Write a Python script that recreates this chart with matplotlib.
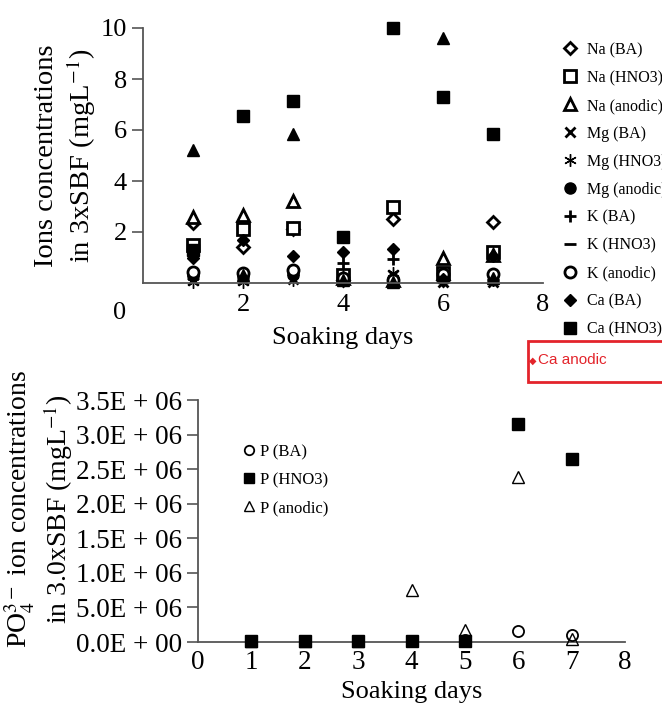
import matplotlib
matplotlib.use('Agg')
import matplotlib.pyplot as plt
from matplotlib.patches import Rectangle

plt.rcParams['font.family'] = ['Liberation Serif', 'DejaVu Serif']
plt.rcParams['mathtext.fontset'] = 'stix'

# верхній графік: концентрації іонів
days = [1, 2, 3, 4, 5, 6, 7]
na_ba = [2.35, 1.4, 2.1, 0.1, 2.5, 0.1, 2.4]
na_hno3 = [1.5, 2.1, 2.15, 0.3, 3.0, 0.4, 1.2]
na_anodic = [2.6, 2.65, 3.2, 0.2, 0.1, 1.0, 1.1]
mg_ba = [0.1, 0.1, 0.15, 0.1, 0.3, 0.05, 0.05]
mg_hno3 = [0.05, 0.05, 0.1, 0.1, 0.4, 0.1, 0.1]
mg_anodic = [0.3, 0.25, 0.3, 0.15, 0.15, 0.25, 0.3]
k_ba = [0.3, 0.35, 0.45, 0.8, 0.95, 0.2, 0.1]
k_hno3 = [0.2, 0.3, 0.35, 0.2, 0.2, 0.1, 0.1]
k_anodic = [0.45, 0.4, 0.5, 0.2, 0.1, 0.35, 0.35]
ca_ba = [1.0, 1.7, 1.05, 1.2, 1.35, 0.15, 1.05]
ca_hno3 = [1.3, 6.55, 7.15, 1.8, 10.0, 7.3, 5.85]
ca_anodic = [5.2, 0.3, 5.85, 0.1, 0.05, 9.6, 0.2]

# нижній графік: PO4
p_days = [1, 2, 3, 4, 5, 6, 7]
p_ba = [0.02e6, 0.02e6, 0.02e6, 0.02e6, 0.03e6, 0.16e6, 0.10e6]
p_hno3 = [0.02e6, 0.02e6, 0.02e6, 0.02e6, 0.02e6, 3.16e6, 2.64e6]
p_anodic = [0.02e6, 0.02e6, 0.02e6, 0.75e6, 0.17e6, 2.38e6, 0.05e6]
p_yticks = [0, 0.5e6, 1.0e6, 1.5e6, 2.0e6, 2.5e6, 3.0e6, 3.5e6]
p_ylabels = ['0.0E + 00', '5.0E + 06', '1.0E + 06', '1.5E + 06',
             '2.0E + 06', '2.5E + 06', '3.0E + 06', '3.5E + 06']

W, H = 662, 711
fig = plt.figure(figsize=(W / 100, H / 100), dpi=100)
spine_c = '#555555'

def style_axes(ax):
    for s in ['top', 'right']:
        ax.spines[s].set_visible(False)
    for s in ['left', 'bottom']:
        ax.spines[s].set_color(spine_c)
        ax.spines[s].set_linewidth(1.3)
    ax.tick_params(axis='y', direction='out', length=8, width=1.2, color=spine_c)
    ax.tick_params(axis='x', length=0)
    ax.set_xticks([8], minor=True)
    ax.tick_params(axis='x', which='minor', direction='in', length=6, width=1.2, color=spine_c)

# ---- верхній
ax1 = fig.add_axes([143 / W, 1 - 283 / H, 400 / W, 255 / H])
style_axes(ax1)
series = [
    (na_ba, 'D', 'white', 'Na (BA)', 6),
    (na_hno3, 's', 'white', 'Na (HNO3)', 8),
    (na_anodic, '^', 'white', 'Na (anodic)', 9),
    (mg_ba, 'x', 'black', 'Mg (BA)', 7),
    (mg_hno3, (6, 2, 0), 'black', 'Mg (HNO3)', 9),
    (mg_anodic, 'o', 'black', 'Mg (anodic)', 8),
    (k_ba, '+', 'black', 'K (BA)', 8),
    (k_hno3, '_', 'black', 'K (HNO3)', 8),
    (k_anodic, 'o', 'white', 'K (anodic)', 8),
    (ca_ba, 'D', 'black', 'Ca (BA)', 6),
    (ca_hno3, 's', 'black', 'Ca (HNO3)', 8.5),
    (ca_anodic, '^', 'black', 'Ca (anodic)', 9),
]
for vals, m, fc, lab, ms in series:
    thick = fc == 'white' or m in ['x', '_', '+']
    ax1.plot(days, vals, linestyle='none', marker=m, ms=ms, mfc=fc,
             mec='black', mew=2 if thick else 1, color='black',
             label=lab, clip_on=False)
ax1.set_xlim(0, 8)
ax1.set_ylim(0, 10)
ax1.set_yticks([2, 4, 6, 8, 10])
ax1.set_xticks([2, 4, 6, 8])
ax1.tick_params(labelsize=19)
ax1.tick_params(axis='x', pad=8)
ax1.text(-0.058, -0.118, '0', transform=ax1.transAxes, ha='center', va='center', fontsize=19)
ax1.set_xlabel('Soaking days', fontsize=19, labelpad=8)
ax1.set_ylabel('Ions concentrations\nin 3xSBF (mgL$^{-1}$)', fontsize=20.5, labelpad=2)
ax1.legend(loc='upper left', bbox_to_anchor=(562 / W, 1 - 42 / H),
           bbox_transform=fig.transFigure, frameon=False, fontsize=11.5,
           handlelength=1.0, handletextpad=0.55, labelspacing=0.75,
           borderaxespad=0, borderpad=0)

# червона рамка поверх легенди
fig.patches.append(Rectangle((528 / W, 1 - 382 / H), 140 / W, 41 / H,
                             transform=fig.transFigure, facecolor='white',
                             edgecolor='#e3242b', linewidth=2, zorder=10))
fig.text(533 / W, 1 - 361 / H, '\u25c6', color='#e3242b', fontsize=7,
         ha='center', va='center', family='DejaVu Sans', zorder=11)
fig.text(538 / W, 1 - 360 / H, 'Ca anodic', color='#e3242b', fontsize=11,
         family='Liberation Sans', va='center', zorder=11)

# ---- нижній
ax2 = fig.add_axes([198 / W, 1 - 642 / H, 427 / W, 242 / H])
style_axes(ax2)
ax2.plot(p_days, p_hno3, linestyle='none', marker='s', ms=8.5, color='black',
         label='P (HNO3)', zorder=3, clip_on=False)
ax2.plot(p_days, p_ba, linestyle='none', marker='o', ms=8, mfc='none', mec='black',
         mew=1.3, label='P (BA)', zorder=4, clip_on=False)
ax2.plot(p_days, p_anodic, linestyle='none', marker='^', ms=9, mfc='none', mec='black',
         mew=1.0, label='P (anodic)', zorder=4, clip_on=False)
ax2.set_xlim(0, 8)
ax2.set_ylim(0, 3.5e6)
ax2.set_xticks(range(0, 9))
ax2.set_yticks(p_yticks)
ax2.set_yticklabels(p_ylabels)
ax2.tick_params(labelsize=19.5)
ax2.tick_params(axis='x', pad=6)
ax2.set_xlabel('Soaking days', fontsize=19, labelpad=4)
ax2.set_ylabel('PO$_4^{3-}$ ion concentrations\nin 3.0xSBF (mgL$^{-1}$)', fontsize=20, labelpad=2)
ax2.yaxis.set_label_coords(-0.287, 0.55)
h, l = ax2.get_legend_handles_labels()
order = [1, 0, 2]
ax2.legend([h[i] for i in order], [l[i] for i in order], loc='upper left',
           bbox_to_anchor=(242 / W, 1 - 444 / H), bbox_transform=fig.transFigure,
           frameon=False, fontsize=12, handlelength=0.8, handletextpad=0.3,
           labelspacing=0.72, borderaxespad=0, borderpad=0, markerscale=0.85)

fig.savefig('out.png', dpi=100)
